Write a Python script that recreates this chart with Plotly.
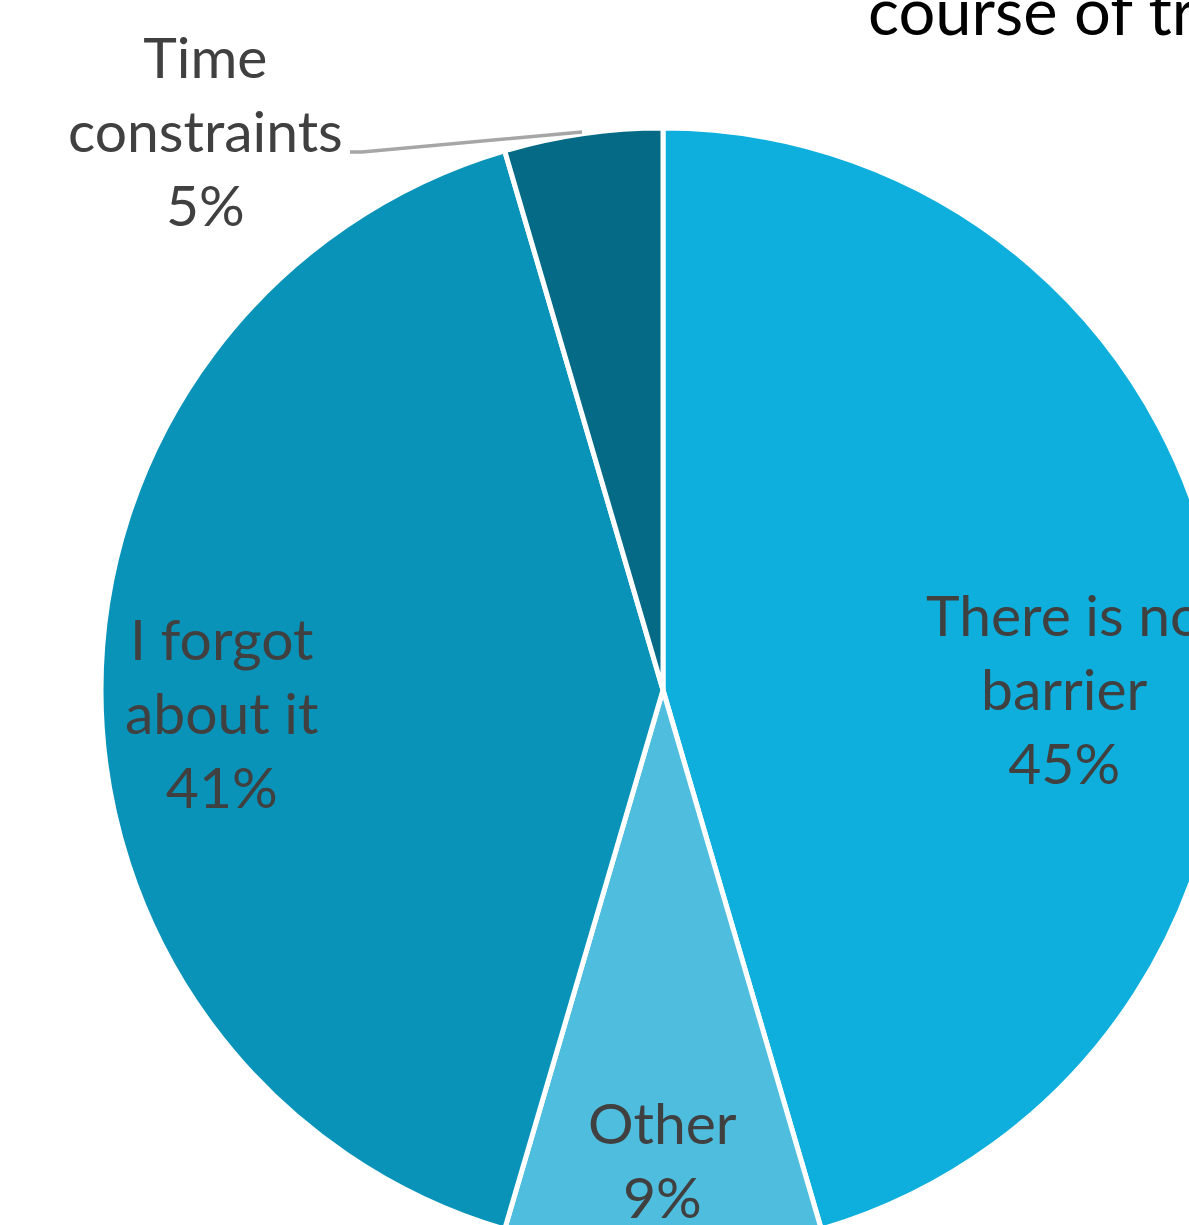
import plotly.graph_objects as go

# Survey responses: barriers encountered over the course of treatment
categories = ["There is no barrier", "Other", "I forgot about it", "Time constraints"]
display_names = ["There is no<br>barrier", "Other", "I forgot<br>about it", "Time<br>constraints"]
responses = [10, 2, 9, 1]
colors = ["#0EAFDC", "#4FBDDD", "#0A93B9", "#046A86"]

W, H = 1400, 1400
TEXT_COLOR = "#404040"
FONT = "Lato"
LABEL_SIZE = 57

# pie placement (pixels from top-left of the canvas)
cx, cy, r = 663, 690, 562

# label anchor points (pixels), one per slice
label_xy = [(1064, 688), (662, 1159), (222, 712), (205, 130)]


def px(x):
    return x / W


def py(y):
    return 1 - y / H


fig = go.Figure(
    go.Pie(
        labels=categories,
        values=responses,
        customdata=display_names,
        textinfo="none",
        marker=dict(colors=colors, line=dict(color="white", width=5)),
        sort=False,
        direction="clockwise",
        rotation=0,
        showlegend=False,
        hoverinfo="label+percent",
        domain=dict(x=[px(cx - r), px(cx + r)], y=[py(cy + r), py(cy - r)]),
    )
)

# data labels: category name and share of responses
total = sum(responses)
for name, n, (lx, ly) in zip(display_names, responses, label_xy):
    pct = n / total
    fig.add_annotation(
        x=px(lx), y=py(ly), xref="paper", yref="paper",
        text=f"{name}<br>{pct:.0%}",
        showarrow=False, xanchor="center", yanchor="middle",
        font=dict(family=FONT, size=LABEL_SIZE, color=TEXT_COLOR),
    )

# leader line for the small slice's outside label
fig.add_shape(
    type="path", xref="paper", yref="paper",
    path=f"M {px(350)},{py(152)} L {px(362)},{py(152)} L {px(582)},{py(132)}",
    line=dict(color="#A6A6A6", width=3.5),
)

# chart title (second line)
fig.add_annotation(
    x=px(866), y=py(51), xref="paper", yref="paper",
    text="course of treatment",
    showarrow=False, xanchor="left", yanchor="bottom",
    font=dict(family=FONT, size=65, color="#000000"),
)

fig.update_layout(
    width=W, height=H,
    margin=dict(l=0, r=0, t=0, b=0),
    paper_bgcolor="white",
    plot_bgcolor="white",
)

fig.write_html(
    "out.html",
    post_script="document.documentElement.style.overflow='hidden';document.body.style.overflow='hidden';",
)
